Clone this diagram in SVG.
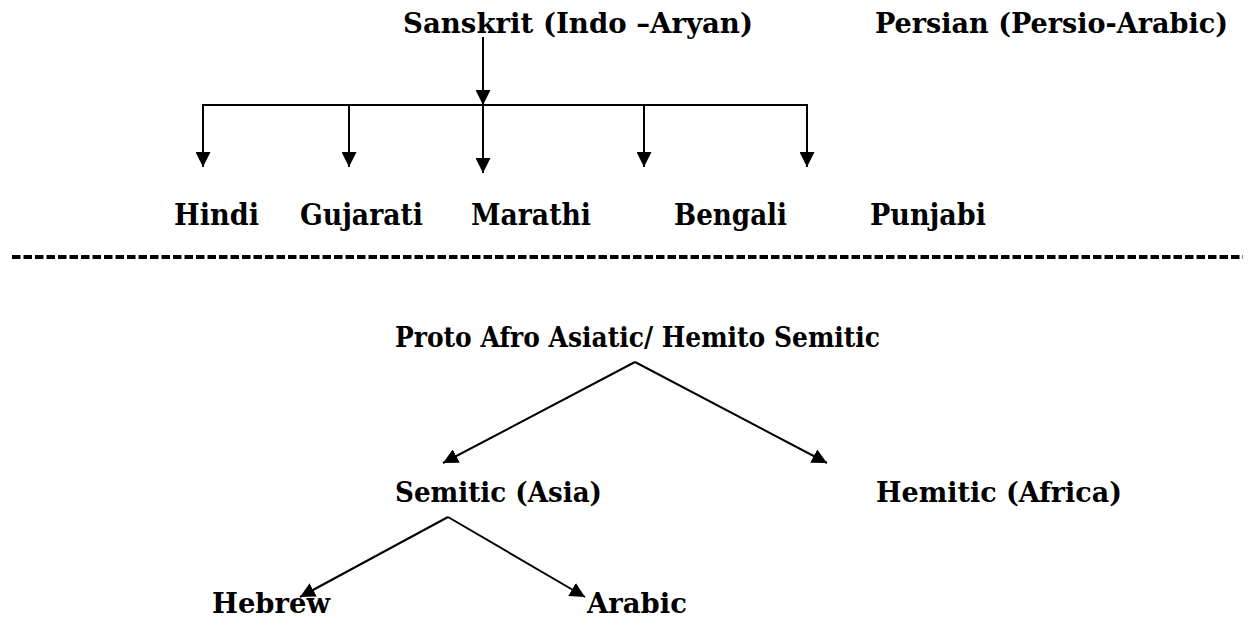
<svg xmlns="http://www.w3.org/2000/svg" width="1248" height="620" viewBox="0 0 1248 620">
<defs>
<style>
.t{font-family:"DejaVu Serif","Liberation Serif",serif;font-weight:bold;font-size:27px;fill:#000}
.m{font-family:"DejaVu Serif","Liberation Serif",serif;font-weight:bold;font-size:30px;fill:#000}
.c{stroke:#000;stroke-width:2;fill:none}
.d{stroke:#000;stroke-width:4;stroke-dasharray:8.5 3;fill:none}
</style>
<marker id="as" viewBox="0 0 15 15" refX="15" refY="7.5" markerWidth="15" markerHeight="15" markerUnits="userSpaceOnUse" orient="auto">
<path d="M0,0 L15,7.5 L0,15 Z" fill="#000"/>
</marker>
</defs>
<rect width="1248" height="620" fill="#fff"/>
<g id="sanskrit"><text class="t" x="403" y="33" textLength="350" lengthAdjust="spacingAndGlyphs">Sanskrit (Indo –Aryan)</text></g>
<g id="persian"><text class="t" x="875" y="33" textLength="353" lengthAdjust="spacingAndGlyphs">Persian (Persio-Arabic)</text></g>
<g id="hindi"><text class="m" x="174" y="225" textLength="85" lengthAdjust="spacingAndGlyphs">Hindi</text></g>
<g id="gujarati"><text class="m" x="300" y="225" textLength="123" lengthAdjust="spacingAndGlyphs">Gujarati</text></g>
<g id="marathi"><text class="m" x="471" y="225" textLength="120" lengthAdjust="spacingAndGlyphs">Marathi</text></g>
<g id="bengali"><text class="m" x="674" y="225" textLength="113" lengthAdjust="spacingAndGlyphs">Bengali</text></g>
<g id="punjabi"><text class="m" x="870" y="225" textLength="116" lengthAdjust="spacingAndGlyphs">Punjabi</text></g>
<g id="proto"><text class="t" x="395" y="347" textLength="485" lengthAdjust="spacingAndGlyphs">Proto Afro Asiatic/ Hemito Semitic</text></g>
<g id="semitic"><text class="t" x="395" y="502" textLength="207" lengthAdjust="spacingAndGlyphs">Semitic (Asia)</text></g>
<g id="hemitic"><text class="t" x="876" y="502" textLength="246" lengthAdjust="spacingAndGlyphs">Hemitic (Africa)</text></g>
<g id="hebrew"><text class="t" x="212" y="613" textLength="118" lengthAdjust="spacingAndGlyphs">Hebrew</text></g>
<g id="arabic"><text class="t" x="587" y="613" textLength="100" lengthAdjust="spacingAndGlyphs">Arabic</text></g>
<g id="connectors">
<line class="c" x1="483" y1="37" x2="483" y2="105" marker-end="url(#as)"/>
<line class="c" x1="202" y1="105" x2="808" y2="105"/>
<line class="c" x1="203" y1="104" x2="203" y2="167" marker-end="url(#as)"/>
<line class="c" x1="349" y1="104" x2="349" y2="167" marker-end="url(#as)"/>
<line class="c" x1="483" y1="104" x2="483" y2="173" marker-end="url(#as)"/>
<line class="c" x1="644" y1="104" x2="644" y2="167" marker-end="url(#as)"/>
<line class="c" x1="807" y1="104" x2="807" y2="167" marker-end="url(#as)"/>
<line class="c" x1="635" y1="362" x2="443" y2="463" marker-end="url(#as)"/>
<line class="c" x1="635" y1="362" x2="827" y2="463" marker-end="url(#as)"/>
<line class="c" x1="448" y1="517" x2="300" y2="597" marker-end="url(#as)"/>
<line class="c" x1="448" y1="517" x2="585" y2="597" marker-end="url(#as)"/>
<line class="d" x1="12" y1="257" x2="1243" y2="257"/>
</g>
</svg>
